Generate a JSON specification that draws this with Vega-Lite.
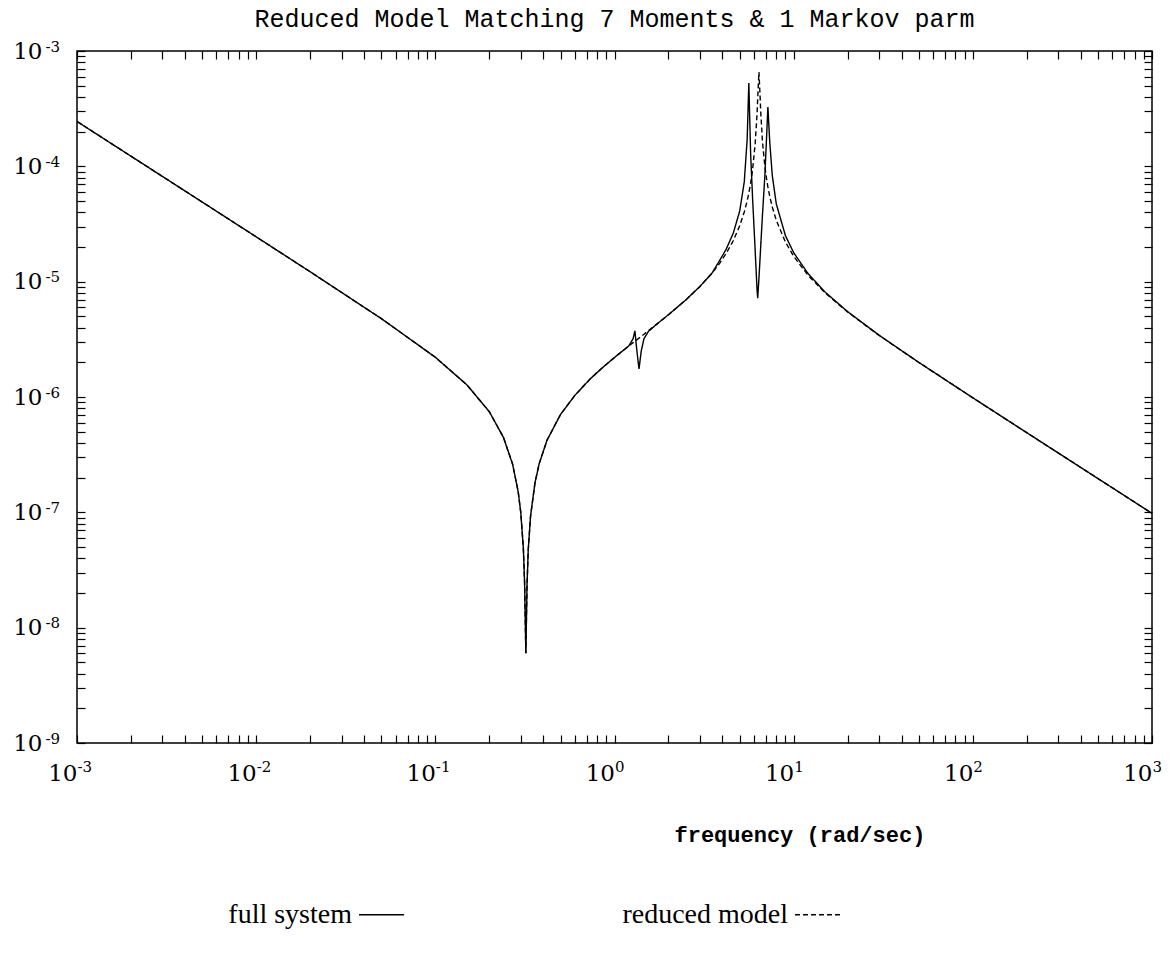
{
  "$schema": "https://vega.github.io/schema/vega-lite/v6.json",
  "width": 1075,
  "height": 692,
  "autosize": {"type": "none"},
  "padding": {"left": 77, "top": 51, "right": 22, "bottom": 212},
  "background": "white",
  "config": {
    "view": {"stroke": "black", "strokeWidth": 1.5},
    "axis": {"grid": false, "domain": false, "tickColor": "black", "tickWidth": 1.2, "labelColor": "black", "titleColor": "black"}
  },
  "title": {
    "text": "Reduced Model Matching 7 Moments & 1 Markov parm",
    "font": "Liberation Mono",
    "fontSize": 25,
    "fontWeight": "normal",
    "color": "black",
    "frame": "group",
    "anchor": "middle",
    "baseline": "alphabetic",
    "offset": 12,
    "dy": 25
  },
  "datasets": {
    "curves": [
      {"f": 0.001, "m": 2.45e-4, "s": "full system"},
      {"f": 0.002, "m": 1.225e-4, "s": "full system"},
      {"f": 0.005, "m": 4.9e-5, "s": "full system"},
      {"f": 0.01, "m": 2.448e-5, "s": "full system"},
      {"f": 0.02, "m": 1.22e-5, "s": "full system"},
      {"f": 0.05, "m": 4.78e-6, "s": "full system"},
      {"f": 0.1, "m": 2.211e-6, "s": "full system"},
      {"f": 0.15, "m": 1.274e-6, "s": "full system"},
      {"f": 0.2, "m": 7.465e-7, "s": "full system"},
      {"f": 0.24, "m": 4.466e-7, "s": "full system"},
      {"f": 0.27, "m": 2.614e-7, "s": "full system"},
      {"f": 0.29, "m": 1.51e-7, "s": "full system"},
      {"f": 0.3, "m": 9.89e-8, "s": "full system"},
      {"f": 0.31, "m": 4.86e-8, "s": "full system"},
      {"f": 0.315, "m": 2.41e-8, "s": "full system"},
      {"f": 0.32, "m": 6e-9, "s": "full system"},
      {"f": 0.325, "m": 2.37e-8, "s": "full system"},
      {"f": 0.33, "m": 4.71e-8, "s": "full system"},
      {"f": 0.34, "m": 9.29e-8, "s": "full system"},
      {"f": 0.36, "m": 1.808e-7, "s": "full system"},
      {"f": 0.38, "m": 2.645e-7, "s": "full system"},
      {"f": 0.42, "m": 4.216e-7, "s": "full system"},
      {"f": 0.5, "m": 7.063e-7, "s": "full system"},
      {"f": 0.6, "m": 1.03e-6, "s": "full system"},
      {"f": 0.73, "m": 1.43e-6, "s": "full system"},
      {"f": 0.85, "m": 1.777e-6, "s": "full system"},
      {"f": 1.0, "m": 2.201e-6, "s": "full system"},
      {"f": 1.15, "m": 2.623e-6, "s": "full system"},
      {"f": 1.2, "m": 2.764e-6, "s": "full system"},
      {"f": 1.27, "m": 3.2e-6, "s": "full system"},
      {"f": 1.3, "m": 3.75e-6, "s": "full system"},
      {"f": 1.33, "m": 2.6e-6, "s": "full system"},
      {"f": 1.37, "m": 1.75e-6, "s": "full system"},
      {"f": 1.41, "m": 2.5e-6, "s": "full system"},
      {"f": 1.46, "m": 3.2e-6, "s": "full system"},
      {"f": 1.55, "m": 3.72e-6, "s": "full system"},
      {"f": 1.75, "m": 4.374e-6, "s": "full system"},
      {"f": 2.0, "m": 5.167e-6, "s": "full system"},
      {"f": 2.5, "m": 6.943e-6, "s": "full system"},
      {"f": 3.0, "m": 9.094e-6, "s": "full system"},
      {"f": 3.5, "m": 1.185e-5, "s": "full system"},
      {"f": 3.87, "m": 1.535e-5, "s": "full system"},
      {"f": 4.2, "m": 1.911e-5, "s": "full system"},
      {"f": 4.6, "m": 2.628e-5, "s": "full system"},
      {"f": 5.0, "m": 4.105e-5, "s": "full system"},
      {"f": 5.3, "m": 7.33e-5, "s": "full system"},
      {"f": 5.5, "m": 1.7e-4, "s": "full system"},
      {"f": 5.62, "m": 5.28e-4, "s": "full system"},
      {"f": 5.75, "m": 1.31e-4, "s": "full system"},
      {"f": 5.9, "m": 5.22e-5, "s": "full system"},
      {"f": 6.1, "m": 1.835e-5, "s": "full system"},
      {"f": 6.25, "m": 8.35e-6, "s": "full system"},
      {"f": 6.3, "m": 7.2e-6, "s": "full system"},
      {"f": 6.4, "m": 1.07e-5, "s": "full system"},
      {"f": 6.5, "m": 1.643e-5, "s": "full system"},
      {"f": 6.7, "m": 3.85e-5, "s": "full system"},
      {"f": 6.9, "m": 8.07e-5, "s": "full system"},
      {"f": 7.05, "m": 1.7e-4, "s": "full system"},
      {"f": 7.18, "m": 3.27e-4, "s": "full system"},
      {"f": 7.35, "m": 1.64e-4, "s": "full system"},
      {"f": 7.6, "m": 8.28e-5, "s": "full system"},
      {"f": 8.0, "m": 4.72e-5, "s": "full system"},
      {"f": 9.0, "m": 2.5e-5, "s": "full system"},
      {"f": 10, "m": 1.784e-5, "s": "full system"},
      {"f": 12, "m": 1.181e-5, "s": "full system"},
      {"f": 15, "m": 8.1e-6, "s": "full system"},
      {"f": 20, "m": 5.5e-6, "s": "full system"},
      {"f": 30, "m": 3.43e-6, "s": "full system"},
      {"f": 50, "m": 1.993e-6, "s": "full system"},
      {"f": 100, "m": 9.84e-7, "s": "full system"},
      {"f": 200, "m": 4.905e-7, "s": "full system"},
      {"f": 500, "m": 1.96e-7, "s": "full system"},
      {"f": 1000, "m": 9.8e-8, "s": "full system"},

      {"f": 0.001, "m": 2.45e-4, "s": "reduced model"},
      {"f": 0.002, "m": 1.225e-4, "s": "reduced model"},
      {"f": 0.005, "m": 4.9e-5, "s": "reduced model"},
      {"f": 0.01, "m": 2.448e-5, "s": "reduced model"},
      {"f": 0.02, "m": 1.22e-5, "s": "reduced model"},
      {"f": 0.05, "m": 4.78e-6, "s": "reduced model"},
      {"f": 0.1, "m": 2.211e-6, "s": "reduced model"},
      {"f": 0.15, "m": 1.274e-6, "s": "reduced model"},
      {"f": 0.2, "m": 7.465e-7, "s": "reduced model"},
      {"f": 0.24, "m": 4.466e-7, "s": "reduced model"},
      {"f": 0.27, "m": 2.614e-7, "s": "reduced model"},
      {"f": 0.29, "m": 1.51e-7, "s": "reduced model"},
      {"f": 0.3, "m": 9.89e-8, "s": "reduced model"},
      {"f": 0.31, "m": 4.86e-8, "s": "reduced model"},
      {"f": 0.315, "m": 2.41e-8, "s": "reduced model"},
      {"f": 0.32, "m": 6e-9, "s": "reduced model"},
      {"f": 0.325, "m": 2.37e-8, "s": "reduced model"},
      {"f": 0.33, "m": 4.71e-8, "s": "reduced model"},
      {"f": 0.34, "m": 9.29e-8, "s": "reduced model"},
      {"f": 0.36, "m": 1.808e-7, "s": "reduced model"},
      {"f": 0.38, "m": 2.645e-7, "s": "reduced model"},
      {"f": 0.42, "m": 4.216e-7, "s": "reduced model"},
      {"f": 0.5, "m": 7.063e-7, "s": "reduced model"},
      {"f": 0.6, "m": 1.03e-6, "s": "reduced model"},
      {"f": 0.73, "m": 1.43e-6, "s": "reduced model"},
      {"f": 0.85, "m": 1.777e-6, "s": "reduced model"},
      {"f": 1.0, "m": 2.201e-6, "s": "reduced model"},
      {"f": 1.15, "m": 2.623e-6, "s": "reduced model"},
      {"f": 1.2, "m": 2.764e-6, "s": "reduced model"},
      {"f": 1.27, "m": 2.962e-6, "s": "reduced model"},
      {"f": 1.3, "m": 3.05e-6, "s": "reduced model"},
      {"f": 1.33, "m": 3.13e-6, "s": "reduced model"},
      {"f": 1.37, "m": 3.24e-6, "s": "reduced model"},
      {"f": 1.41, "m": 3.36e-6, "s": "reduced model"},
      {"f": 1.46, "m": 3.5e-6, "s": "reduced model"},
      {"f": 1.55, "m": 3.77e-6, "s": "reduced model"},
      {"f": 1.75, "m": 4.374e-6, "s": "reduced model"},
      {"f": 2.0, "m": 5.167e-6, "s": "reduced model"},
      {"f": 2.5, "m": 6.943e-6, "s": "reduced model"},
      {"f": 3.0, "m": 9.094e-6, "s": "reduced model"},
      {"f": 3.5, "m": 1.185e-5, "s": "reduced model"},
      {"f": 3.87, "m": 1.45e-5, "s": "reduced model"},
      {"f": 4.2, "m": 1.755e-5, "s": "reduced model"},
      {"f": 4.6, "m": 2.265e-5, "s": "reduced model"},
      {"f": 5.0, "m": 3.058e-5, "s": "reduced model"},
      {"f": 5.3, "m": 4.022e-5, "s": "reduced model"},
      {"f": 5.5, "m": 5.015e-5, "s": "reduced model"},
      {"f": 5.62, "m": 5.85e-5, "s": "reduced model"},
      {"f": 5.75, "m": 7.11e-5, "s": "reduced model"},
      {"f": 5.9, "m": 9.37e-5, "s": "reduced model"},
      {"f": 6.1, "m": 1.589e-4, "s": "reduced model"},
      {"f": 6.25, "m": 2.89e-4, "s": "reduced model"},
      {"f": 6.3, "m": 3.9e-4, "s": "reduced model"},
      {"f": 6.4, "m": 6.58e-4, "s": "reduced model"},
      {"f": 6.5, "m": 3.94e-4, "s": "reduced model"},
      {"f": 6.55, "m": 2.95e-4, "s": "reduced model"},
      {"f": 6.7, "m": 1.62e-4, "s": "reduced model"},
      {"f": 6.9, "m": 1.014e-4, "s": "reduced model"},
      {"f": 7.05, "m": 7.89e-5, "s": "reduced model"},
      {"f": 7.18, "m": 6.63e-5, "s": "reduced model"},
      {"f": 7.35, "m": 5.5e-5, "s": "reduced model"},
      {"f": 7.6, "m": 4.43e-5, "s": "reduced model"},
      {"f": 8.0, "m": 3.4e-5, "s": "reduced model"},
      {"f": 9.0, "m": 2.2e-5, "s": "reduced model"},
      {"f": 10, "m": 1.658e-5, "s": "reduced model"},
      {"f": 12, "m": 1.14e-5, "s": "reduced model"},
      {"f": 15, "m": 7.98e-6, "s": "reduced model"},
      {"f": 20, "m": 5.457e-6, "s": "reduced model"},
      {"f": 30, "m": 3.42e-6, "s": "reduced model"},
      {"f": 50, "m": 1.993e-6, "s": "reduced model"},
      {"f": 100, "m": 9.84e-7, "s": "reduced model"},
      {"f": 200, "m": 4.905e-7, "s": "reduced model"},
      {"f": 500, "m": 1.96e-7, "s": "reduced model"},
      {"f": 1000, "m": 9.8e-8, "s": "reduced model"}
    ]
  },
  "data": {"name": "curves"},
  "layer": [
    {
      "mark": {"type": "line", "color": "black", "strokeWidth": 1.4, "clip": true},
      "encoding": {
        "x": {
          "field": "f", "type": "quantitative",
          "scale": {"type": "log", "domain": [0.001, 1000]},
          "axis": {
            "orient": "bottom",
            "values": [0.001,0.002,0.003,0.004,0.005,0.006,0.007,0.008,0.009,0.01,0.02,0.03,0.04,0.05,0.06,0.07,0.08,0.09,0.1,0.2,0.3,0.4,0.5,0.6,0.7,0.8,0.9,1,2,3,4,5,6,7,8,9,10,20,30,40,50,60,70,80,90,100,200,300,400,500,600,700,800,900,1000],
            "labelExpr": "abs(log(datum.value)/LN10 - round(log(datum.value)/LN10)) < 0.001 ? '10' : ''",
            "tickSize": -8,
            "labelPadding": 27,
            "labelAlign": "right",
            "labelDx": -1,
            "labelFont": "DejaVu Serif",
            "labelFontSize": 23,
            "labelFlush": false,
            "labelOverlap": false,
            "labelBound": false,
            "title": "frequency (rad/sec)",
            "titleFont": "Liberation Mono",
            "titleFontSize": 22,
            "titleFontWeight": "bold",
            "titleAlign": "left",
            "titleBaseline": "alphabetic",
            "titleX": 597,
            "titleY": 98
          }
        },
        "y": {
          "field": "m", "type": "quantitative",
          "scale": {"type": "log", "domain": [1e-9, 0.001]},
          "axis": {
            "orient": "left",
            "values": [1e-9,2e-9,3e-9,4e-9,5e-9,6e-9,7e-9,8e-9,9e-9,1e-8,2e-8,3e-8,4e-8,5e-8,6e-8,7e-8,8e-8,9e-8,1e-7,2e-7,3e-7,4e-7,5e-7,6e-7,7e-7,8e-7,9e-7,1e-6,2e-6,3e-6,4e-6,5e-6,6e-6,7e-6,8e-6,9e-6,1e-5,2e-5,3e-5,4e-5,5e-5,6e-5,7e-5,8e-5,9e-5,1e-4,2e-4,3e-4,4e-4,5e-4,6e-4,7e-4,8e-4,9e-4,1e-3],
            "labelExpr": "abs(log(datum.value)/LN10 - round(log(datum.value)/LN10)) < 0.001 ? '10' : ''",
            "tickSize": -8,
            "labelPadding": 43,
            "labelAlign": "right",
            "labelDy": 1,
            "labelFont": "DejaVu Serif",
            "labelFontSize": 23,
            "labelFlush": false,
            "labelOverlap": false,
            "labelBound": false,
            "title": null
          }
        },
        "strokeDash": {
          "field": "s", "type": "nominal",
          "scale": {"domain": ["full system", "reduced model"], "range": [[1, 0], [5, 3]]},
          "legend": {
            "orient": "none",
            "legendX": 281,
            "legendY": 840,
            "direction": "horizontal",
            "title": null,
            "padding": 0,
            "symbolType": "stroke",
            "symbolSize": 2025,
            "symbolStrokeWidth": 1.3,
            "symbolStrokeColor": "black",
            "labelFont": "Liberation Serif",
            "labelFontSize": 28,
            "labelColor": "black",
            "labelAlign": "right",
            "labelOffset": -53,
            "labelLimit": 0,
            "columnPadding": 215
          }
        }
      }
    },
    {
      "mark": {"type": "point", "opacity": 0},
      "encoding": {
        "x": {
          "field": "f", "type": "quantitative",
          "axis": {
            "orient": "top",
            "values": [0.001,0.002,0.003,0.004,0.005,0.006,0.007,0.008,0.009,0.01,0.02,0.03,0.04,0.05,0.06,0.07,0.08,0.09,0.1,0.2,0.3,0.4,0.5,0.6,0.7,0.8,0.9,1,2,3,4,5,6,7,8,9,10,20,30,40,50,60,70,80,90,100,200,300,400,500,600,700,800,900,1000],
            "labels": false,
            "tickSize": -8,
            "title": null
          }
        },
        "y": {
          "field": "m", "type": "quantitative",
          "axis": {
            "orient": "right",
            "values": [1e-9,2e-9,3e-9,4e-9,5e-9,6e-9,7e-9,8e-9,9e-9,1e-8,2e-8,3e-8,4e-8,5e-8,6e-8,7e-8,8e-8,9e-8,1e-7,2e-7,3e-7,4e-7,5e-7,6e-7,7e-7,8e-7,9e-7,1e-6,2e-6,3e-6,4e-6,5e-6,6e-6,7e-6,8e-6,9e-6,1e-5,2e-5,3e-5,4e-5,5e-5,6e-5,7e-5,8e-5,9e-5,1e-4,2e-4,3e-4,4e-4,5e-4,6e-4,7e-4,8e-4,9e-4,1e-3],
            "labels": false,
            "tickSize": -8,
            "title": null
          }
        }
      }
    },
    {
      "mark": {"type": "point", "opacity": 0},
      "encoding": {
        "x": {
          "field": "f", "type": "quantitative",
          "axis": {
            "orient": "bottom",
            "values": [0.001,0.01,0.1,1,10,100,1000],
            "labelExpr": "'' + round(log(datum.value)/LN10)",
            "tickSize": -8,
            "tickOpacity": 0,
            "labelPadding": 24,
            "labelAlign": "left",
            "labelDx": 1,
            "labelFont": "DejaVu Serif",
            "labelFontSize": 15,
            "labelFlush": false,
            "labelOverlap": false,
            "labelBound": false,
            "title": null
          }
        },
        "y": {
          "field": "m", "type": "quantitative",
          "axis": {
            "orient": "left",
            "values": [1e-9,1e-8,1e-7,1e-6,1e-5,1e-4,1e-3],
            "labelExpr": "'' + round(log(datum.value)/LN10)",
            "tickSize": -8,
            "tickOpacity": 0,
            "labelPadding": 40,
            "labelAlign": "left",
            "labelBaseline": "alphabetic",
            "labelDy": 0,
            "labelFont": "DejaVu Serif",
            "labelFontSize": 15,
            "labelFlush": false,
            "labelOverlap": false,
            "labelBound": false,
            "title": null
          }
        }
      }
    }
  ],
  "resolve": {"axis": {"x": "independent", "y": "independent"}}
}
